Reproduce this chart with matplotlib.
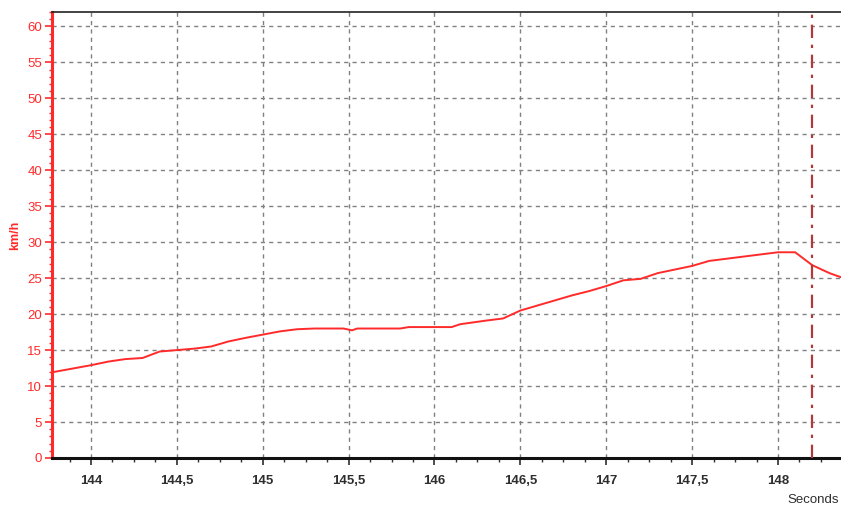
import matplotlib
matplotlib.use("Agg")
import matplotlib.pyplot as plt
from matplotlib.ticker import MultipleLocator, FuncFormatter

# speed trace, seconds vs km/h
t = [143.77, 144.0, 144.1, 144.2, 144.3, 144.4, 144.5, 144.6, 144.7, 144.8,
     144.9, 145.0, 145.1, 145.2, 145.3, 145.4, 145.47, 145.52, 145.55, 145.8,
     145.85, 146.1, 146.15, 146.3, 146.4, 146.5, 146.6, 146.7, 146.8, 146.9,
     147.0, 147.1, 147.2, 147.3, 147.4, 147.5, 147.6, 147.7, 147.8, 147.9,
     148.0, 148.1, 148.2, 148.3, 148.37]
speed = [11.9, 12.9, 13.4, 13.75, 13.9, 14.8, 15.0, 15.2, 15.5, 16.2,
         16.7, 17.15, 17.6, 17.9, 18.0, 18.0, 18.0, 17.75, 18.0, 18.0,
         18.2, 18.2, 18.6, 19.1, 19.4, 20.5, 21.2, 21.9, 22.6, 23.2,
         23.9, 24.7, 24.9, 25.7, 26.2, 26.7, 27.4, 27.7, 28.0, 28.3,
         28.6, 28.6, 26.8, 25.7, 25.1]
cursor_t = 148.2

red = "#ff2a2a"
dark = "#2e2e2e"
plt.rcParams["font.family"] = ["Liberation Sans", "DejaVu Sans"]

fig = plt.figure(figsize=(8.41, 5.08), dpi=100)
ax = fig.add_axes([52 / 841, 50 / 508, 1 - 52 / 841, 446 / 508])

ax.plot(t, speed, color=red, lw=1.4, zorder=3)
ax.axvline(cursor_t, color="#b03a3a", lw=1.6, ls=(0, (6, 3, 1.5, 3)), zorder=4)

ax.set_xlim(143.773, 148.367)
ax.set_ylim(0, 62)
ax.xaxis.set_major_locator(MultipleLocator(0.5))
ax.xaxis.set_minor_locator(MultipleLocator(0.125))
ax.yaxis.set_major_locator(MultipleLocator(5))
ax.yaxis.set_minor_locator(MultipleLocator(1))
ax.xaxis.set_major_formatter(FuncFormatter(lambda v, p: f"{v:g}".replace(".", ",")))

ax.grid(True, which="major", color="#808080", ls=(0, (3, 3)), lw=1.0)

ax.spines["right"].set_visible(False)
ax.spines["left"].set_color(red)
ax.spines["left"].set_linewidth(2.2)
ax.spines["bottom"].set_color("#111111")
ax.spines["bottom"].set_linewidth(2.2)
ax.spines["top"].set_color("#222222")
ax.spines["top"].set_linewidth(1.2)

ax.tick_params(axis="y", which="major", colors=red, length=5, width=1.2,
               labelsize=9.5, pad=2)
ax.tick_params(axis="y", which="minor", colors=red, length=2.5, width=1)
ax.tick_params(axis="x", which="major", colors=dark, length=5, width=1.2,
               labelsize=9.5, pad=7)
ax.tick_params(axis="x", which="minor", colors=dark, length=3, width=1)
for lab in ax.get_xticklabels():
    lab.set_fontweight("bold")

fig.text(15 / 841, 1 - 235 / 508, "km/h", color=red, rotation=90,
         ha="center", va="center", fontsize=9, fontweight="bold")
fig.text(787 / 841, 1 - 500 / 508, "Seconds", color=dark,
         ha="left", va="center", fontsize=9.5)

fig.savefig("out.png", dpi=100)
